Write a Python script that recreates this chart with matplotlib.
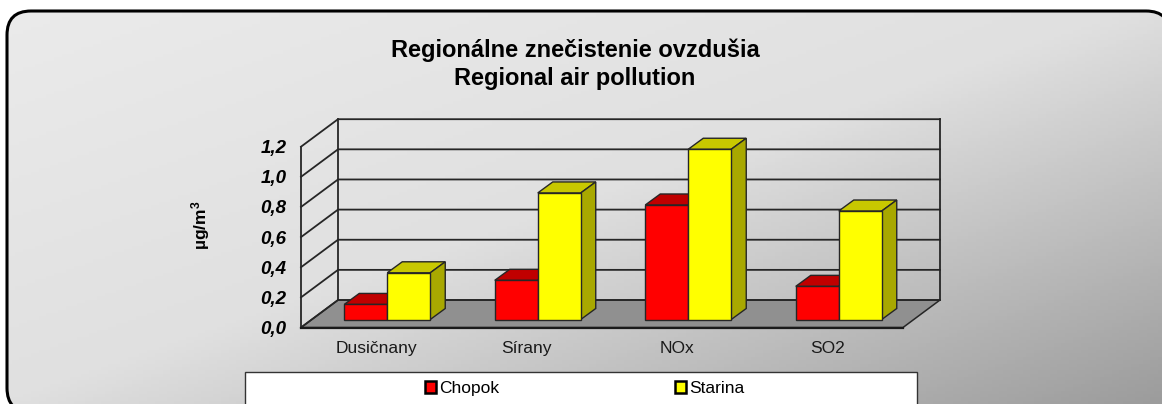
import numpy as np
import matplotlib
matplotlib.use("Agg")
import matplotlib.pyplot as plt
from matplotlib.colors import LinearSegmentedColormap
from matplotlib.patches import FancyBboxPatch, Polygon, Rectangle, Patch
from matplotlib.ticker import FuncFormatter

plt.rcParams['font.family'] = ['Liberation Sans', 'DejaVu Sans']
plt.rcParams['mathtext.default'] = 'regular'

categories = ["Dusičnany", "Sírany", "NOx", "SO2"]
chopok = [0.10, 0.26, 0.76, 0.22]
starina = [0.31, 0.84, 1.13, 0.72]
series_names = ["Chopok", "Starina"]
title_text = "Regionálne znečistenie ovzdušia\nRegional air pollution"
y_label = "µg/m$^{3}$"
y_ticks = [0.0, 0.2, 0.4, 0.6, 0.8, 1.0, 1.2]

W, H = 1162, 404
L, R, T, B = 301.0, 903.0, 146.7, 327.5
px_x = 4 / (R - L)
px_y = 1.2 / (B - T)
wall_dx, wall_dy = 37 * px_x, 27.5 * px_y
bar_dx, bar_dy = 11 * px_x, 8 * px_y
deep_dx, deep_dy = 15 * px_x, 11 * px_y
bar_w = 43 * px_x
line = '#262626'

fig = plt.figure(figsize=(W / 100, H / 100), dpi=100, facecolor='white')

# Rounded gradient panel
bg = fig.add_axes([0, 0, 1, 1], zorder=0)
bg.set_xlim(0, W); bg.set_ylim(H, 0); bg.axis('off')
xx, yy = np.meshgrid(np.linspace(0, 1, 300), np.linspace(0, 1, 120))
cmap = LinearSegmentedColormap.from_list('p', [(0, '#ebebeb'), (0.5, '#e0e0e0'), (1, '#9c9c9c')])
im = bg.imshow(0.5 * xx + 0.5 * yy, extent=(0, W, H, 0), cmap=cmap, vmin=0, vmax=1, aspect='auto', zorder=1)
panel = FancyBboxPatch((7, 11), 1163, 401, boxstyle='round,pad=0,rounding_size=24',
                       fc=(1, 1, 1, 0.004), ec='black', lw=2.2, zorder=2)
bg.add_patch(panel)
im.set_clip_path(panel)
# Legend box (runs past the lower edge)
bg.add_patch(Rectangle((245, 372), 672, 50, fc='white', ec='#333333', lw=1.0, zorder=3))

ax = fig.add_axes([L / W, (H - B) / H, (R - L) / W, (B - T) / H], zorder=1)
ax.patch.set_alpha(0)
ax.set_xlim(0, 4); ax.set_ylim(0, 1.2)
for s in ax.spines.values():
    s.set_visible(False)

# Floor
ax.add_patch(Polygon([(0, 0), (4, 0), (4 + wall_dx, wall_dy), (wall_dx, wall_dy)], closed=True,
                     fc='#909090', ec=line, lw=1.1, clip_on=False, zorder=1))
# Grid on the side and back walls
for v in y_ticks:
    ax.plot([0, wall_dx, 4 + wall_dx], [v, v + wall_dy, v + wall_dy], color=line, lw=1.3,
            clip_on=False, zorder=1.5, solid_joinstyle='miter')
ax.plot([0, 0], [0, 1.2], color=line, lw=1.3, clip_on=False, zorder=1.5)
ax.plot([wall_dx, wall_dx], [wall_dy, 1.2 + wall_dy], color=line, lw=1.3, clip_on=False, zorder=1.5)
ax.plot([4 + wall_dx, 4 + wall_dx], [wall_dy, 1.2 + wall_dy], color=line, lw=1.3, clip_on=False, zorder=1.5)
ax.plot([0, 4], [0, 0], color='#1a1a1a', lw=1.6, clip_on=False, zorder=1.6)

centers = np.arange(len(categories)) + 0.5 + bar_dx
styles = [(chopok, -bar_w / 2, '#ff0000', '#c00000', '#a00000', 2),
          (starina, bar_w / 2, '#ffff00', '#c8c800', '#a8a800', 3)]
for vals, off, front, top, side, z in styles:
    bars = ax.bar(centers + off, vals, bar_w, bottom=bar_dy, color=front, edgecolor=line, linewidth=1.0,
                  clip_on=False, zorder=z + 0.5)
    for r in bars:
        x0, x1 = r.get_x(), r.get_x() + r.get_width()
        y0, y1 = r.get_y(), r.get_y() + r.get_height()
        ax.add_patch(Polygon([(x0, y1), (x1, y1), (x1 + deep_dx, y1 + deep_dy), (x0 + deep_dx, y1 + deep_dy)],
                             closed=True, fc=top, ec=line, lw=1.0, clip_on=False, zorder=z))
        ax.add_patch(Polygon([(x1, y0), (x1 + deep_dx, y0 + deep_dy), (x1 + deep_dx, y1 + deep_dy), (x1, y1)],
                             closed=True, fc=side, ec=line, lw=1.0, clip_on=False, zorder=z))

ax.set_xticks(np.arange(len(categories)) + 0.5, categories)
ax.set_yticks(y_ticks)
ax.yaxis.set_major_formatter(FuncFormatter(lambda v, _: f"{v:.1f}".replace('.', ',')))
ax.tick_params(axis='both', length=0)
ax.tick_params(axis='x', pad=9.5, labelsize=12.5, labelcolor='#1a1a1a')
ax.tick_params(axis='y', pad=10.5, labelsize=13.5)
for t in ax.get_yticklabels():
    t.set_fontweight('bold'); t.set_fontstyle('italic')

fig.text(575 / W, 1 - 64 / H, title_text, ha='center', va='center', fontsize=17, fontweight='bold',
         color='black', linespacing=1.27)
fig.text(201 / W, 1 - 225 / H, y_label, rotation=90, ha='center', va='center', fontsize=12.5,
         fontweight='bold', color='black')

handles = [Patch(fc='#ff0000', ec='black', lw=1.8), Patch(fc='#ffff00', ec='black', lw=1.8)]
leg = fig.legend(handles, series_names, ncol=2, frameon=False, fontsize=12.5,
                 loc='center left', bbox_to_anchor=(425 / W, 1 - 388.5 / H),
                 borderpad=0, borderaxespad=0, handlelength=0.62, handleheight=0.62,
                 handletextpad=0.22, columnspacing=10.1)
leg.set_zorder(5)

fig.savefig('out.png', dpi=100)
